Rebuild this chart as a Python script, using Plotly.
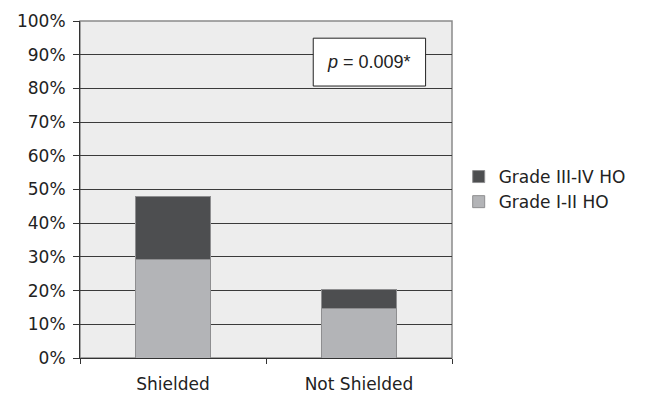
import plotly.graph_objects as go

categories = ["Shielded", "Not Shielded"]
grade_1_2 = [29.3, 14.7]
grade_3_4 = [18.6, 5.5]
y_ticks = list(range(0, 101, 10))
y_tick_labels = [f"{v}%" for v in y_ticks]
p_text = "<i>p</i> = 0.009*"

fig = go.Figure()
fig.add_trace(go.Bar(x=categories, y=grade_1_2, name="Grade I-II HO",
                     marker=dict(color="#b3b4b7", line=dict(color="#8e8e90", width=1))))
fig.add_trace(go.Bar(x=categories, y=grade_3_4, name="Grade III-IV HO",
                     marker=dict(color="#4d4e50", line=dict(color="#8e8e90", width=1))))

font = dict(family="DejaVu Sans", size=17, color="#222222")

# page body has an 8px margin, so the figure is shrunk and margins shifted accordingly
fig.update_layout(
    width=639, height=385,
    margin=dict(l=72, r=195, t=13, b=35),
    barmode="stack", bargap=0.6,
    paper_bgcolor="white", plot_bgcolor="#ededed",
    font=font,
    showlegend=True,
    legend=dict(x=1.018, y=0.5, xanchor="left", yanchor="middle",
                traceorder="reversed", font=font, itemwidth=30,
                bgcolor="rgba(0,0,0,0)"),
    xaxis=dict(showgrid=False, showline=True, linecolor="#333333", linewidth=1,
               ticks="outside", tickson="boundaries", ticklen=5, tickcolor="#333333",
               ticklabelstandoff=11, automargin=False),
    yaxis=dict(range=[0, 100], tickvals=y_ticks, ticktext=y_tick_labels,
               showgrid=True, gridcolor="#3a3a3a", gridwidth=1,
               showline=True, linecolor="#333333", linewidth=1,
               ticks="outside", ticklen=6, tickcolor="#333333", zeroline=False,
               ticklabelstandoff=4, automargin=False),
)

# gray plot border
fig.add_shape(type="rect", xref="paper", yref="paper", x0=0, x1=1, y0=0, y1=1,
              line=dict(color="#8a8a8a", width=1.5), layer="below")
# p-value box
fig.add_shape(type="rect", xref="paper", yref="paper", x0=0.627, x1=0.929, y0=0.807, y1=0.949,
              line=dict(color="#222222", width=1), fillcolor="white", layer="above")
fig.add_annotation(xref="paper", yref="paper", x=0.777, y=0.878, xanchor="center", yanchor="middle",
                   text=p_text, showarrow=False,
                   font=dict(family="Liberation Sans", size=18, color="#222222"))

fig.write_html("out.html")
